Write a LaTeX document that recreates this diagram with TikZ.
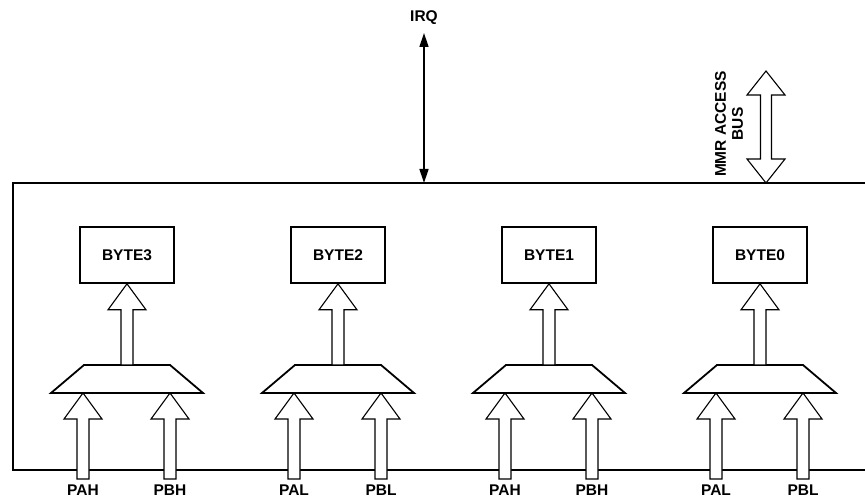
\documentclass[tikz,border=0pt]{standalone}
\usepackage{fontspec}
\setmainfont{Liberation Sans}
\usetikzlibrary{arrows.meta,calc}
\tikzset{
  lbl/.style={font=\bfseries\fontsize{15.5}{17}\selectfont, inner sep=0pt},
  bytebox/.style={draw, line width=1.6pt, minimum width=94pt, minimum height=56pt, lbl},
  muxline/.style={line width=1.8pt, line join=miter},
  fat/.style={draw, fill=white, line width=1.1pt, line join=miter},
}
% hollow arrow pointing up: shaft starts at the height of #1, tip at #2
\newcommand{\fatup}[2]{%
  \path[fat] let \p1=(#1), \p2=(#2) in
    (\x2-6pt,\y1) -- (\x2-6pt,\y2-26pt) -- (\x2-19pt,\y2-26pt) -- (\x2,\y2)
    -- (\x2+19pt,\y2-26pt) -- (\x2+6pt,\y2-26pt) -- (\x2+6pt,\y1) -- cycle;}
% selector drawn round a centre coordinate
\newcommand{\muxat}[1]{%
  \draw[muxline] ($(#1)+(-76,-14)$) -- ++(152,0) -- ++(-33,28) -- ++(-86,0) -- cycle;}
\begin{document}
\begin{tikzpicture}[x=1pt,y=1pt]
    \useasboundingbox (0,0) rectangle (865,498);
    % frame, open on the right
    \draw[line width=2.5pt] (865,315) -| (13,28) -- (865,28);
    \coordinate (inbot) at (0,19);

    \node[bytebox] (byte3) at (127,243) {BYTE3};
    \node[bytebox] (byte2) at (338,243) {BYTE2};
    \node[bytebox] (byte1) at (549,243) {BYTE1};
    \node[bytebox] (byte0) at (760,243) {BYTE0};

    \coordinate (mux3) at (127,119);
    \coordinate (mux2) at (338,119);
    \coordinate (mux1) at (549,119);
    \coordinate (mux0) at (760,119);
    \muxat{mux3} \muxat{mux2} \muxat{mux1} \muxat{mux0}

    \fatup{$(mux3)+(0,14)$}{byte3.south}
    \fatup{$(mux2)+(0,14)$}{byte2.south}
    \fatup{$(mux1)+(0,14)$}{byte1.south}
    \fatup{$(mux0)+(0,14)$}{byte0.south}

    \fatup{inbot}{$(mux3)+(-44,-14)$}
    \fatup{inbot}{$(mux3)+(43,-14)$}
    \fatup{inbot}{$(mux2)+(-44,-14)$}
    \fatup{inbot}{$(mux2)+(43,-14)$}
    \fatup{inbot}{$(mux1)+(-44,-14)$}
    \fatup{inbot}{$(mux1)+(43,-14)$}
    \fatup{inbot}{$(mux0)+(-44,-14)$}
    \fatup{inbot}{$(mux0)+(43,-14)$}

    \node[lbl] (pah3) at (83,8) {PAH};
    \node[lbl] (pbh3) at (170,8) {PBH};
    \node[lbl] (pal2) at (294,8) {PAL};
    \node[lbl] (pbl2) at (381,8) {PBL};
    \node[lbl] (pah1) at (505,8) {PAH};
    \node[lbl] (pbh1) at (592,8) {PBH};
    \node[lbl] (pal0) at (716,8) {PAL};
    \node[lbl] (pbl0) at (803,8) {PBL};

    % interrupt line
    \node[lbl] (irq) at (424,480) {IRQ};
    \coordinate (irqtop) at (424,465);
    \coordinate (irqbot) at (424,315);
    \draw[{Triangle[length=14pt,width=9pt]}-{Triangle[length=14pt,width=9pt]}, line width=1.4pt] (irqtop) -- (irqbot);

    % register bus
    \node[lbl, rotate=90, align=center] (mmr) at (729,374) {MMR ACCESS\\BUS};
    \coordinate (mmrtop) at (766,427);
    \coordinate (mmrbot) at (766,315);
    \path[fat] let \p1=(mmrtop), \p2=(mmrbot) in
      (\x1,\y1) -- (\x1+19pt,\y1-24pt) -- (\x1+5.5pt,\y1-24pt) -- (\x1+5.5pt,\y2+24pt)
      -- (\x1+19pt,\y2+24pt) -- (\x2,\y2) -- (\x1-19pt,\y2+24pt) -- (\x1-5.5pt,\y2+24pt)
      -- (\x1-5.5pt,\y1-24pt) -- (\x1-19pt,\y1-24pt) -- cycle;
\end{tikzpicture}
\end{document}
